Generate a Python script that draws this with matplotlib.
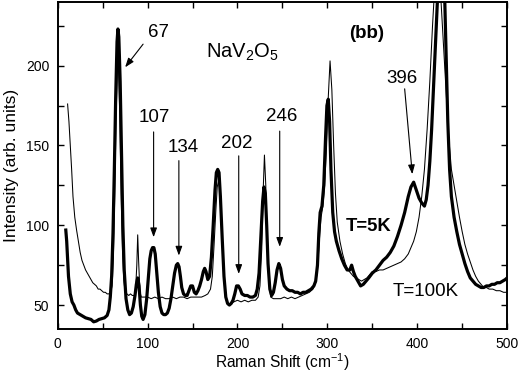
import matplotlib
matplotlib.use("Agg")
import matplotlib.pyplot as plt
from matplotlib.ticker import MultipleLocator

plt.rcParams['font.family'] = ['Liberation Sans', 'DejaVu Sans']
plt.rcParams['mathtext.fontset'] = 'custom'
plt.rcParams['mathtext.rm'] = 'Liberation Sans'

# T = 5K spectrum (thick)
x5 = [9, 10, 12, 14, 16, 18, 20, 22, 25, 28, 31, 34, 37, 40, 43, 46, 49, 52, 55, 57,
      58.5, 60, 61.5, 63, 64.5, 66, 67, 68, 69.5, 71, 72.5, 74, 76, 78, 80, 82, 84, 86,
      87.5, 89, 90.5, 92, 93.5, 95, 97, 99, 101, 102.5, 104, 105.5, 107, 108.5, 110, 112,
      114, 116, 118, 120, 122, 124, 126, 128, 130, 132, 133.5, 135, 136.5, 138, 140, 142,
      144, 146, 148, 150, 152, 154, 156, 158, 160, 162, 163.5, 165, 167, 169, 171, 173,
      175, 176.5, 178, 179.5, 181, 183, 185, 187, 189, 191, 193, 195, 197, 199, 201, 203,
      205, 208, 211, 214, 217, 220, 222, 224, 226, 228, 229.5, 231, 232.5, 234, 236, 238,
      240, 242, 244, 246, 248, 250, 252, 255, 258, 261, 264, 267, 270, 273, 276, 279, 282,
      285, 287, 289, 290.5, 292, 294, 296, 298, 299.5, 301, 302.5, 304, 306, 308, 310, 313,
      316, 319, 322, 325, 327, 329, 331, 334, 337, 340, 343, 346, 350, 354, 358, 362, 366,
      370, 374, 378, 382, 386, 390, 393, 396, 399, 402, 405, 408, 410, 412, 414, 416, 418,
      420, 422, 424, 427, 430, 432, 434, 436, 438, 441, 444, 447, 450, 453, 456, 459, 462,
      465, 468, 471, 474, 477, 480, 483, 486, 489, 492, 495, 498, 500]
y5 = [97, 90, 68, 57, 52, 50, 47, 45, 44, 43, 42, 41.5, 41, 39.5, 40, 41, 41.5, 42, 43.5, 47,
      55, 68, 95, 135, 180, 215, 223, 218, 190, 145, 100, 72, 54, 47, 44, 45, 49, 56,
      63, 67, 62, 50, 43, 41, 44, 54, 68, 79, 84, 86, 86, 82, 72, 58,
      49, 45, 44, 44, 45, 48, 54, 62, 70, 75, 76, 74, 68, 61, 57, 56,
      56, 59, 62, 62, 58, 57, 59, 62, 66, 71, 73, 71, 66, 68, 80, 100,
      122, 133, 135, 133, 118, 92, 68, 55, 51, 50, 51, 53, 57, 62, 62, 60,
      57, 56, 56, 55, 55, 56, 60, 70, 92, 115, 124, 120, 100, 76, 60, 56,
      58, 64, 72, 76, 73, 66, 62, 60, 59, 59, 58, 58, 57, 58, 58, 59, 60,
      62, 65, 75, 95, 108, 112, 125, 155, 175, 179, 165, 135, 108, 96, 90, 84,
      79, 75, 72, 72, 75, 71, 68, 65, 62, 63, 65, 67, 70, 72, 75, 78, 80,
      83, 87, 93, 100, 108, 118, 124, 127, 122, 117, 114, 112, 116, 125, 140, 160, 185,
      210, 235, 260, 275, 255, 210, 165, 135, 118, 105, 96, 88, 82, 76, 71, 67, 65,
      63, 62, 61, 61, 62, 62, 63, 63, 64, 64, 65, 66, 67]

# T = 100K spectrum (thin)
x100 = [11, 12.5, 14, 15.5, 17, 19, 21, 23, 25, 27, 29, 31, 33, 35, 37, 39, 41, 43, 45, 47,
        49, 51, 53, 55, 57, 59, 60.5, 62, 63.5, 65, 66.5, 67.5, 69, 70.5, 72, 73.5, 75, 77,
        79, 81, 83, 85, 86.5, 88, 89, 90, 91.5, 93, 96, 100, 104, 108, 112, 116, 120, 124,
        128, 132, 136, 140, 144, 148, 152, 156, 160, 164, 167, 170, 172, 174, 176, 177.5,
        179, 180.5, 182, 184, 186, 188, 190, 193, 196, 200, 204, 208, 212, 216, 220, 223,
        225, 227, 228.5, 230, 231.5, 233, 235, 237, 240, 244, 248, 252, 256, 260, 264, 268,
        272, 276, 280, 284, 287, 289, 291, 293, 295, 297, 299, 301, 303, 305, 307, 309, 311,
        314, 317, 320, 323, 326, 329, 332, 335, 338, 341, 344, 347, 350, 354, 358, 362, 366,
        370, 374, 378, 382, 386, 390, 393, 396, 399, 402, 405, 408, 411, 414, 417, 420, 423,
        426, 429, 432, 435, 438, 441, 444, 447, 450, 453, 456, 459, 462, 465, 468, 471, 474,
        477, 480, 484, 488, 492, 496, 500]
y100 = [176, 165, 150, 135, 118, 105, 97, 90, 83, 78, 75, 72, 70, 68, 66, 64, 63, 62, 60, 60,
        59, 58, 58, 57, 57, 58, 62, 80, 120, 170, 198, 200, 170, 120, 85, 66, 58, 57,
        56, 57, 56, 56, 58, 75, 94, 78, 58, 55, 55, 55, 54, 55, 54, 55, 54, 54,
        55, 54, 55, 55, 54, 55, 55, 55, 55, 56, 57, 60, 68, 88, 110, 124,
        128, 122, 103, 78, 60, 52, 50, 51, 52, 53, 52, 53, 52, 53, 53, 55,
        62, 85, 120, 144, 125, 88, 64, 55, 54, 54, 54, 55, 54, 55, 54, 55,
        56, 57, 58, 60, 64, 72, 90, 105, 112, 125, 148, 180, 203, 185, 150, 120, 102,
        90, 82, 76, 72, 70, 68, 67, 66, 65, 66, 67, 69, 71, 71, 72, 72, 73,
        74, 75, 76, 77, 79, 82, 86, 90, 96, 105, 118, 135, 160, 190, 225, 255, 260,
        245, 215, 185, 155, 135, 125, 115, 105, 96, 88, 82, 77, 72, 68, 65, 63, 61,
        61, 60, 60, 59, 59, 58, 58]

# Peak labels: (text, text position, arrow tail, arrow head)
peak_labels = ['67', '107', '134', '202', '246', '396']
label_pos = [(112, 220.5), (107, 167.5), (139.5, 149), (199, 151), (249, 168), (383.5, 192)]
arrow_tail = [(95, 213.5), (106.7, 158.5), (134.8, 140.5), (201.4, 143.5), (247, 159), (386, 185.5)]
arrow_head = [(75, 199), (106.7, 92.5), (134.8, 81), (201.4, 69.5), (247, 86.5), (394.5, 132)]

fig = plt.figure(figsize=(5.18, 3.72), dpi=100)
ax = fig.add_axes([0.1114, 0.1156, 0.8676, 0.8794])

ax.plot(x100, y100, color='black', lw=0.75, zorder=2)
ax.plot(x5, y5, color='black', lw=2.3, zorder=3, solid_joinstyle='round')

ax.set_xlim(0, 500)
ax.set_ylim(35, 240)
ax.xaxis.set_major_locator(MultipleLocator(100))
ax.xaxis.set_minor_locator(MultipleLocator(50))
ax.yaxis.set_major_locator(MultipleLocator(50))
ax.yaxis.set_minor_locator(MultipleLocator(25))
ax.tick_params(which='both', direction='in', top=True, right=True, length=4.5, width=1.0,
               labelsize=10, pad=6)
for s in ax.spines.values():
    s.set_linewidth(1.4)

ax.set_xlabel('Raman Shift (cm$^{-1}$)', fontsize=11.2, labelpad=0)
ax.set_ylabel('Intensity (arb. units)', fontsize=12.5, labelpad=5)

for t, p, a, h in zip(peak_labels, label_pos, arrow_tail, arrow_head):
    ax.text(p[0], p[1], t, fontsize=13.5, ha='center', va='center')
    ax.annotate('', xy=h, xytext=a,
                arrowprops=dict(arrowstyle='-|>,head_length=0.55,head_width=0.2',
                                color='black', lw=0.8, shrinkA=0, shrinkB=0))

ax.text(165.5, 208.5, 'NaV$_2$O$_5$', fontsize=14.5, ha='left', va='center')
ax.text(344, 220, '(bb)', fontsize=13.5, fontweight='bold', ha='center', va='center')
ax.text(321, 99, 'T=5K', fontsize=13.2, fontweight='bold', ha='left', va='center')
ax.text(373, 58.5, 'T=100K', fontsize=13.5, ha='left', va='center')

fig.savefig('out.png', dpi=100)
